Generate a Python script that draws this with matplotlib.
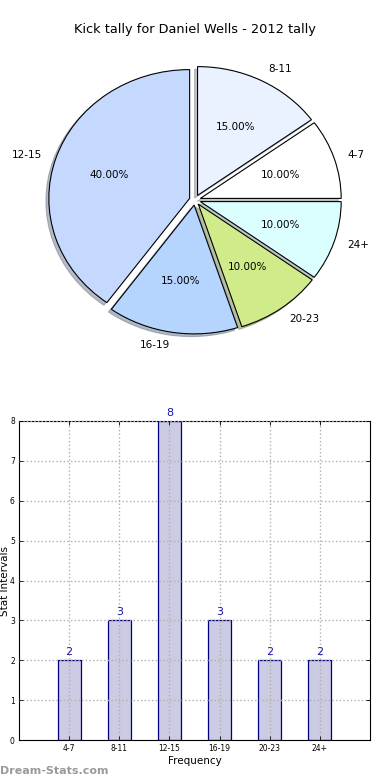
import matplotlib
matplotlib.use("Agg")
import matplotlib.pyplot as plt

title = "Kick tally for Daniel Wells - 2012 tally"
pie_labels = ["12-15", "16-19", "20-23", "24+", "4-7", "8-11"]
pie_values = [40, 15, 10, 10, 10, 15]
pie_colors = ["#c5d9ff", "#b5d5ff", "#d0eb8a", "#dbffff", "#ffffff", "#eaf1ff"]

bar_cats = ["4-7", "8-11", "12-15", "16-19", "20-23", "24+"]
bar_vals = [2, 3, 8, 3, 2, 2]
y_ticks = [0, 1, 2, 3, 4, 5, 6, 7, 8]

fig = plt.figure(figsize=(3.9, 7.8), dpi=100)
fig.patch.set_facecolor("white")

fig.text(0.5, 1 - 30 / 780, title, ha="center", va="center", fontsize=9.3)

axp = fig.add_axes([(195 - 176) / 390, 1 - 361 / 780, 352 / 390, 322 / 780])
wedges, texts, autotexts = axp.pie(
    pie_values, labels=pie_labels, colors=pie_colors, startangle=90,
    explode=[0.04] * 6,
    shadow={"ox": -0.015, "oy": -0.015, "shade": 0.45},
    autopct="%1.2f%%",
    wedgeprops=dict(edgecolor="black", linewidth=0.8),
    textprops=dict(fontsize=7.5))
axp.set_aspect("auto")
axp.set_xlim(-1.25, 1.25)
axp.set_ylim(-1.25, 1.25)

axb = fig.add_axes([19 / 390, 40 / 780, 351 / 390, 319 / 780])
x = list(range(len(bar_cats)))
bars = axb.bar(x, bar_vals, width=0.46, color="#cbcbe3", edgecolor="#000080",
               linewidth=0.9, zorder=2)
for xi, v in zip(x, bar_vals):
    axb.text(xi, v + 0.08, str(v), ha="center", va="bottom", fontsize=8,
             color="#1a1aa0")
axb.set_xlim(-1, 6)
axb.set_ylim(0, 8)
axb.set_xticks(x)
axb.set_xticklabels(bar_cats, fontsize=5.5)
axb.set_yticks(y_ticks)
axb.set_yticklabels([str(t) for t in y_ticks], fontsize=5.5)
axb.tick_params(direction="in", length=3, width=0.6, top=True, right=True, pad=3)
axb.grid(True, linestyle=":", color="#b0b0b0", linewidth=1, zorder=3)
axb.set_axisbelow(False)
for sp in axb.spines.values():
    sp.set_linewidth(0.8)
axb.set_xlabel("Frequency", fontsize=7.5, labelpad=2)
axb.set_ylabel("Stat Intervals", fontsize=7.5)
axb.yaxis.set_label_coords(-0.026, 0.5)

fig.text(0.0, 1 - 771 / 780, "Dream-Stats.com", ha="left", va="center",
         fontsize=8, color="#9a9a9a", fontweight="bold")

fig.savefig("out.png", dpi=100)
